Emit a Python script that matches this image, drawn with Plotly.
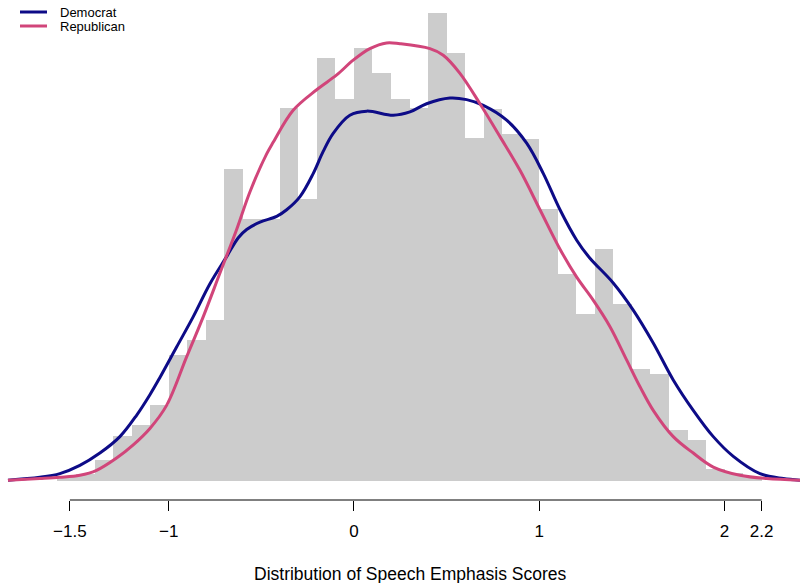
import plotly.graph_objects as go

# Histogram (density scale), bins of width 0.1, left edges
bin_left = [-1.6, -1.5, -1.4, -1.3, -1.2, -1.1, -1.0, -0.9, -0.8, -0.7, -0.6, -0.5,
            -0.4, -0.3, -0.2, -0.1, 0.0, 0.1, 0.2, 0.3, 0.4, 0.5, 0.6, 0.7, 0.8, 0.9,
            1.0, 1.1, 1.2, 1.3, 1.4, 1.5, 1.6, 1.7, 1.8, 1.9, 2.0, 2.1]
bin_density = [0.005, 0.009, 0.026, 0.055, 0.068, 0.092, 0.153, 0.172, 0.196, 0.380,
               0.319, 0.319, 0.454, 0.343, 0.515, 0.465, 0.527, 0.496, 0.465, 0.454,
               0.569, 0.521, 0.417, 0.453, 0.422, 0.416, 0.331, 0.252, 0.203, 0.282,
               0.215, 0.136, 0.130, 0.062, 0.050, 0.015, 0.010, 0.005]
bin_width = 0.1

# Density curves
dem_x = [-1.867, -1.695, -1.587, -1.479, -1.371, -1.263, -1.173, -1.101, -1.047, -0.957,
         -0.867, -0.777, -0.687, -0.624, -0.579, -0.507, -0.417, -0.363, -0.291, -0.220,
         -0.166, -0.112, -0.022, 0.069, 0.212, 0.302, 0.392, 0.518, 0.608, 0.698, 0.824,
         0.932, 1.022, 1.112, 1.202, 1.270, 1.399, 1.507, 1.615, 1.723, 1.831, 1.939,
         2.047, 2.191, 2.317, 2.407]
dem_y = [0.001, 0.0045, 0.009, 0.019, 0.034, 0.054, 0.080, 0.105, 0.126, 0.163,
         0.200, 0.240, 0.273, 0.296, 0.306, 0.315, 0.322, 0.330, 0.346, 0.374,
         0.401, 0.423, 0.445, 0.450, 0.445, 0.449, 0.459, 0.466, 0.464, 0.457, 0.439,
         0.411, 0.374, 0.330, 0.293, 0.272, 0.241, 0.208, 0.168, 0.123, 0.086, 0.054,
         0.030, 0.009, 0.003, 0.001]

rep_x = [-1.867, -1.695, -1.587, -1.479, -1.389, -1.281, -1.191, -1.101, -1.011, -0.903,
         -0.813, -0.723, -0.633, -0.561, -0.471, -0.436, -0.328, -0.201, -0.093, -0.004,
         0.086, 0.176, 0.248, 0.410, 0.482, 0.572, 0.680, 0.788, 0.896, 1.004, 1.112,
         1.202, 1.291, 1.381, 1.472, 1.543, 1.615, 1.723, 1.831, 1.939, 2.083, 2.227, 2.407]
rep_y = [0.001, 0.003, 0.0045, 0.007, 0.013, 0.028, 0.044, 0.064, 0.092, 0.151,
         0.200, 0.253, 0.306, 0.352, 0.398, 0.412, 0.451, 0.476, 0.494, 0.512,
         0.526, 0.533, 0.532, 0.526, 0.518, 0.496, 0.459, 0.419, 0.378, 0.330, 0.282,
         0.248, 0.220, 0.188, 0.147, 0.115, 0.086, 0.054, 0.034, 0.017, 0.007, 0.003, 0.001]

tick_vals = [-1.533, -1, 0, 1, 2, 2.2]
tick_text = ["\u22121.5", "\u22121", "0", "1", "2", "2.2"]
series_names = ["Democrat", "Republican"]
series_colors = ["#0D0B87", "#D1457A"]

FONT = "Liberation Sans, Arial, sans-serif"

fig = go.Figure()
fig.add_trace(go.Bar(
    x=[b + bin_width / 2 for b in bin_left], y=bin_density, width=bin_width,
    marker=dict(color="#CCCCCC", line=dict(width=0)), showlegend=False, hoverinfo="skip"))
fig.add_trace(go.Scatter(x=dem_x, y=dem_y, mode="lines", name=series_names[0],
                         line=dict(color=series_colors[0], width=3, shape="spline", smoothing=1),
                         showlegend=False))
fig.add_trace(go.Scatter(x=rep_x, y=rep_y, mode="lines", name=series_names[1],
                         line=dict(color=series_colors[1], width=3, shape="spline", smoothing=1),
                         showlegend=False))

# axis line limited to tick span (R style)
fig.add_shape(type="line", xref="x", yref="paper", x0=tick_vals[0], x1=tick_vals[-1],
              y0=0, y1=0, line=dict(color="black", width=1))

# manual legend
for i, (nm, col) in enumerate(zip(series_names, series_colors)):
    ypx = 12 + 14 * i
    yp = 1 - ypx / 500
    fig.add_shape(type="line", xref="paper", yref="paper", x0=20 / 800, x1=47 / 800,
                  y0=yp, y1=yp, line=dict(color=col, width=3))
    fig.add_annotation(xref="paper", yref="paper", x=58 / 800, y=yp, text=nm,
                       showarrow=False, xanchor="left", yanchor="middle",
                       font=dict(family=FONT, size=13, color="black"))

fig.add_annotation(xref="paper", yref="paper", x=0.5 * (253 + 567) / 800, y=(500 - 574) / 500,
                   text="Distribution of Speech Emphasis Scores", showarrow=False,
                   xanchor="center", yanchor="middle",
                   font=dict(family=FONT, size=17.5, color="black"))

fig.update_layout(
    width=800, height=583,
    margin=dict(l=0, r=0, t=0, b=83),
    plot_bgcolor="white", paper_bgcolor="white",
    bargap=0,
    xaxis=dict(range=[-1.910, 2.407], tickvals=tick_vals, ticktext=tick_text,
               ticks="outside", ticklen=10, tickwidth=1, tickcolor="black",
               showline=False, showgrid=False, zeroline=False,
               tickfont=dict(family=FONT, size=17, color="black"),
               ticklabelstandoff=6),
    yaxis=dict(range=[-0.0231, 0.5852], visible=False, showgrid=False, zeroline=False),
)

fig.write_html("out.html")
